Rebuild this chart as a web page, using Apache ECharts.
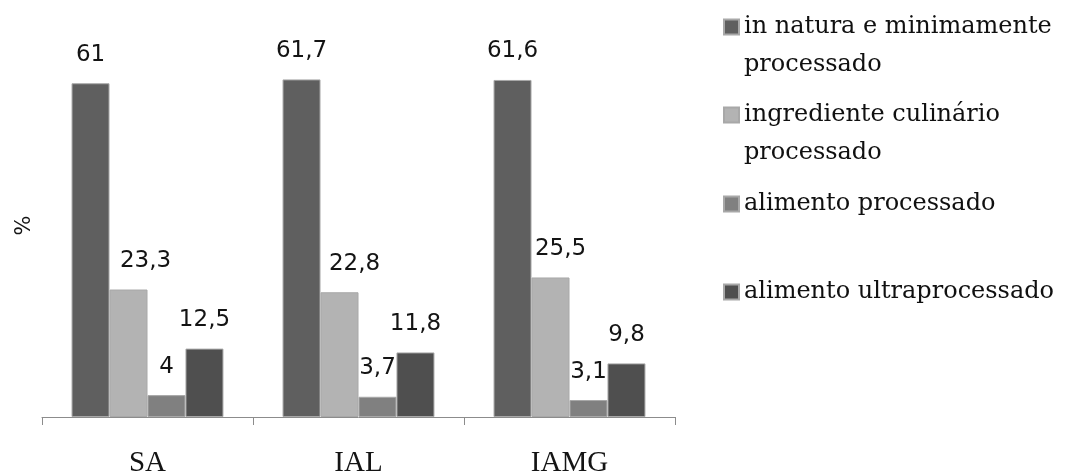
<!DOCTYPE html>
<html>
<head>
<meta charset="utf-8">
<script src="https://cdn.jsdelivr.net/npm/echarts@6/dist/echarts.min.js"></script>
<style>
  html, body { margin: 0; padding: 0; background: #fff; }
  #chart { width: 1068px; height: 474px; }
</style>
</head>
<body>
<div id="chart"></div>
<script>
// Food groups by processing level (%) for each group
const categories = ['SA', 'IAL', 'IAMG'];
const seriesNames = [
  'in natura e minimamente\nprocessado',
  'ingrediente culinário\nprocessado',
  'alimento processado',
  'alimento ultraprocessado'
];
const inNatura = [61, 61.7, 61.6];
const ingrediente = [23.3, 22.8, 25.5];
const processado = [4, 3.7, 3.1];
const ultraprocessado = [12.5, 11.8, 9.8];

const colors = ['#5f5f5f', '#b3b3b3', '#808080', '#4f4f4f'];
const values = [inNatura, ingrediente, processado, ultraprocessado];

// horizontal nudges for the light-grey series labels
const ingredienteLabelShift = [17, 15, 10];

const labelFont = 'DejaVu Sans';
const legendFont = 'DejaVu Serif';
const axisFont = 'Liberation Serif';
const lineH = 38;

function fmt(p) { return String(p.value).replace('.', ','); }

const series = values.map((data, i) => ({
  name: seriesNames[i],
  type: 'bar',
  data: i === 1
    ? data.map((v, j) => ({ value: v, label: { offset: [ingredienteLabelShift[j], 0] } }))
    : data,
  barGap: '0%',
  barCategoryGap: '28%',
  itemStyle: { color: colors[i], borderColor: '#a8a8a8', borderWidth: 1 },
  label: {
    show: true,
    position: 'top',
    distance: 17,
    formatter: fmt,
    fontFamily: labelFont,
    fontSize: 23,
    color: '#141414'
  },
  emphasis: { disabled: true }
}));

// one legend block per entry; wrapped names keep the square beside their first line
const legendCentres = [27, 115, 204, 292];
const legends = seriesNames.map((name, i) => {
  const twoLines = name.indexOf('\n') >= 0;
  return {
    data: [name],
    orient: 'vertical',
    left: 723,
    top: twoLines ? legendCentres[i] - 1.5 * lineH : legendCentres[i] - lineH / 2,
    padding: 0,
    itemWidth: 15,
    itemHeight: 15,
    itemGap: 7,
    icon: 'rect',
    selectedMode: false,
    formatter: n => (twoLines ? '\n' + n : n),
    textStyle: {
      fontFamily: legendFont,
      fontSize: 24,
      color: '#101010',
      lineHeight: lineH
    }
  };
});

const chart = echarts.init(document.getElementById('chart'), null, { renderer: 'canvas' });
chart.setOption({
  animation: false,
  backgroundColor: '#ffffff',
  color: colors,
  legend: legends,
  grid: { left: 42, right: 393, top: 34, bottom: 57, outerBoundsMode: 'none', containLabel: false },
  xAxis: {
    type: 'category',
    data: categories,
    axisLine: { lineStyle: { color: '#8c8c8c', width: 1 } },
    axisTick: { show: true, length: 8, lineStyle: { color: '#8c8c8c' } },
    axisLabel: {
      fontFamily: axisFont,
      fontSize: 29,
      color: '#141414',
      margin: 32
    }
  },
  yAxis: {
    type: 'value',
    min: 0,
    max: 70,
    name: '%',
    nameLocation: 'middle',
    nameRotate: 90,
    nameGap: 7,
    nameTextStyle: { fontFamily: labelFont, fontSize: 21, color: '#141414' },
    axisLine: { show: false },
    axisTick: { show: false },
    axisLabel: { show: false },
    splitLine: { show: false }
  },
  series: series
});
</script>
</body>
</html>
